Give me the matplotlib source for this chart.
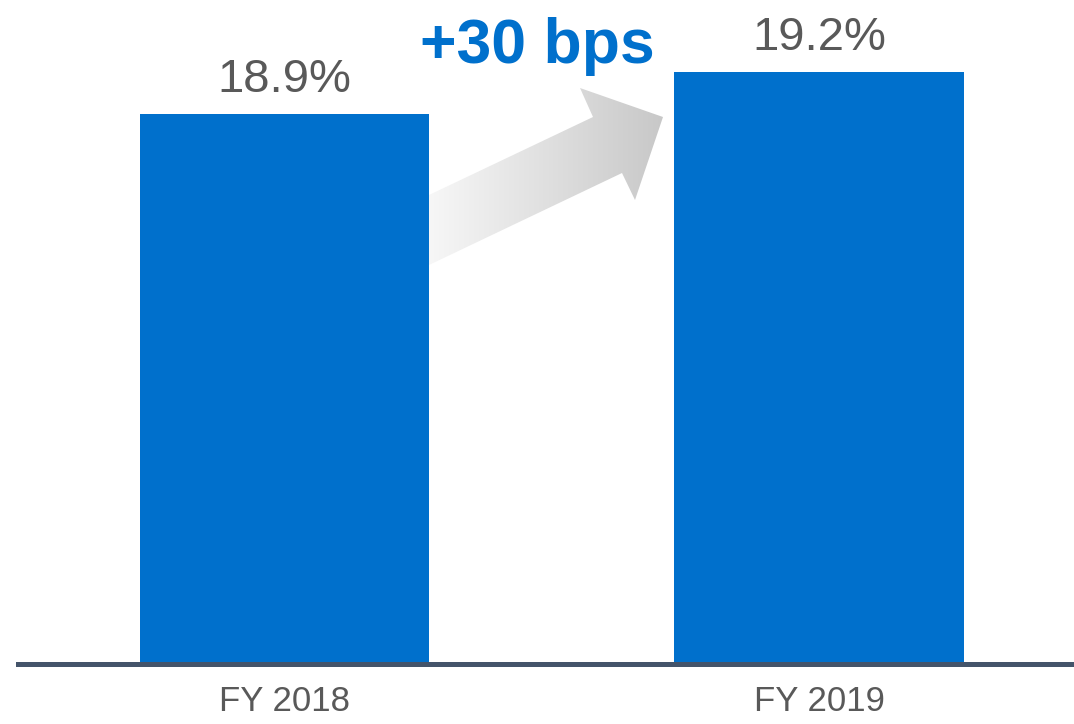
import numpy as np
import matplotlib.pyplot as plt
from matplotlib.patches import Polygon
from matplotlib.colors import LinearSegmentedColormap

# data
years = ['FY 2018', 'FY 2019']
margins = [18.9, 19.2]
labels = ['18.9%', '19.2%']
change_text = '+30 bps'

W, H = 1074, 724
fig = plt.figure(figsize=(W / 100, H / 100), dpi=100)

# bar axes: baseline at y=664 px, axis starts at 15%
ax = fig.add_axes([18 / W, (H - 664) / H, 1 - 18 / W, 664 / H])
x = np.arange(len(years))
ax.bar(x, margins, width=0.541, color='#0070CC', zorder=2)
ax.set_ylim(15, 15 + 664 / 141.0)
ax.set_xlim(-0.4986, 1.477)

for xi, v, lab in zip(x, margins, labels):
    ax.annotate(lab, (xi, v), xytext=(0, 12), textcoords='offset pixels',
                ha='center', va='bottom', fontsize=34, color='#595959',
                family=['Liberation Sans', 'DejaVu Sans'])

ax.set_xticks(x)
ax.set_xticklabels(years, fontsize=25, color='#595959',
                   family=['Liberation Sans', 'DejaVu Sans'])
ax.tick_params(axis='x', length=0, pad=15)
ax.set_yticks([])
for s in ['top', 'left', 'right']:
    ax.spines[s].set_visible(False)
ax.spines['bottom'].set_color('#44546A')
ax.spines['bottom'].set_linewidth(3.6)
ax.spines['bottom'].set_zorder(3)

# overlay in pixel coordinates for the arrow and the change label
ov = fig.add_axes([0, 0, 1, 1], zorder=5)
ov.axis('off')
ov.patch.set_alpha(0)

pts = [(429, 195), (593, 117), (580, 88), (663, 117), (635, 200), (622, 173), (429, 265)]
poly = Polygon(pts, closed=True, facecolor='none', edgecolor='none')
ov.add_patch(poly)
grad = np.linspace(0, 1, 256).reshape(1, -1)
cmap = LinearSegmentedColormap.from_list('g', ['#F7F7F7', '#C8C8C8'])
im = ov.imshow(grad, cmap=cmap, extent=[429, 663, 265, 88], aspect='auto', zorder=4)
im.set_clip_path(poly)
ov.set_xlim(0, W)
ov.set_ylim(H, 0)

ov.text(537, 46, change_text, ha='center', va='center', fontsize=45,
        fontweight='bold', color='#0070CC', family=['Liberation Sans', 'DejaVu Sans'])

fig.savefig('out.png', dpi=100)
